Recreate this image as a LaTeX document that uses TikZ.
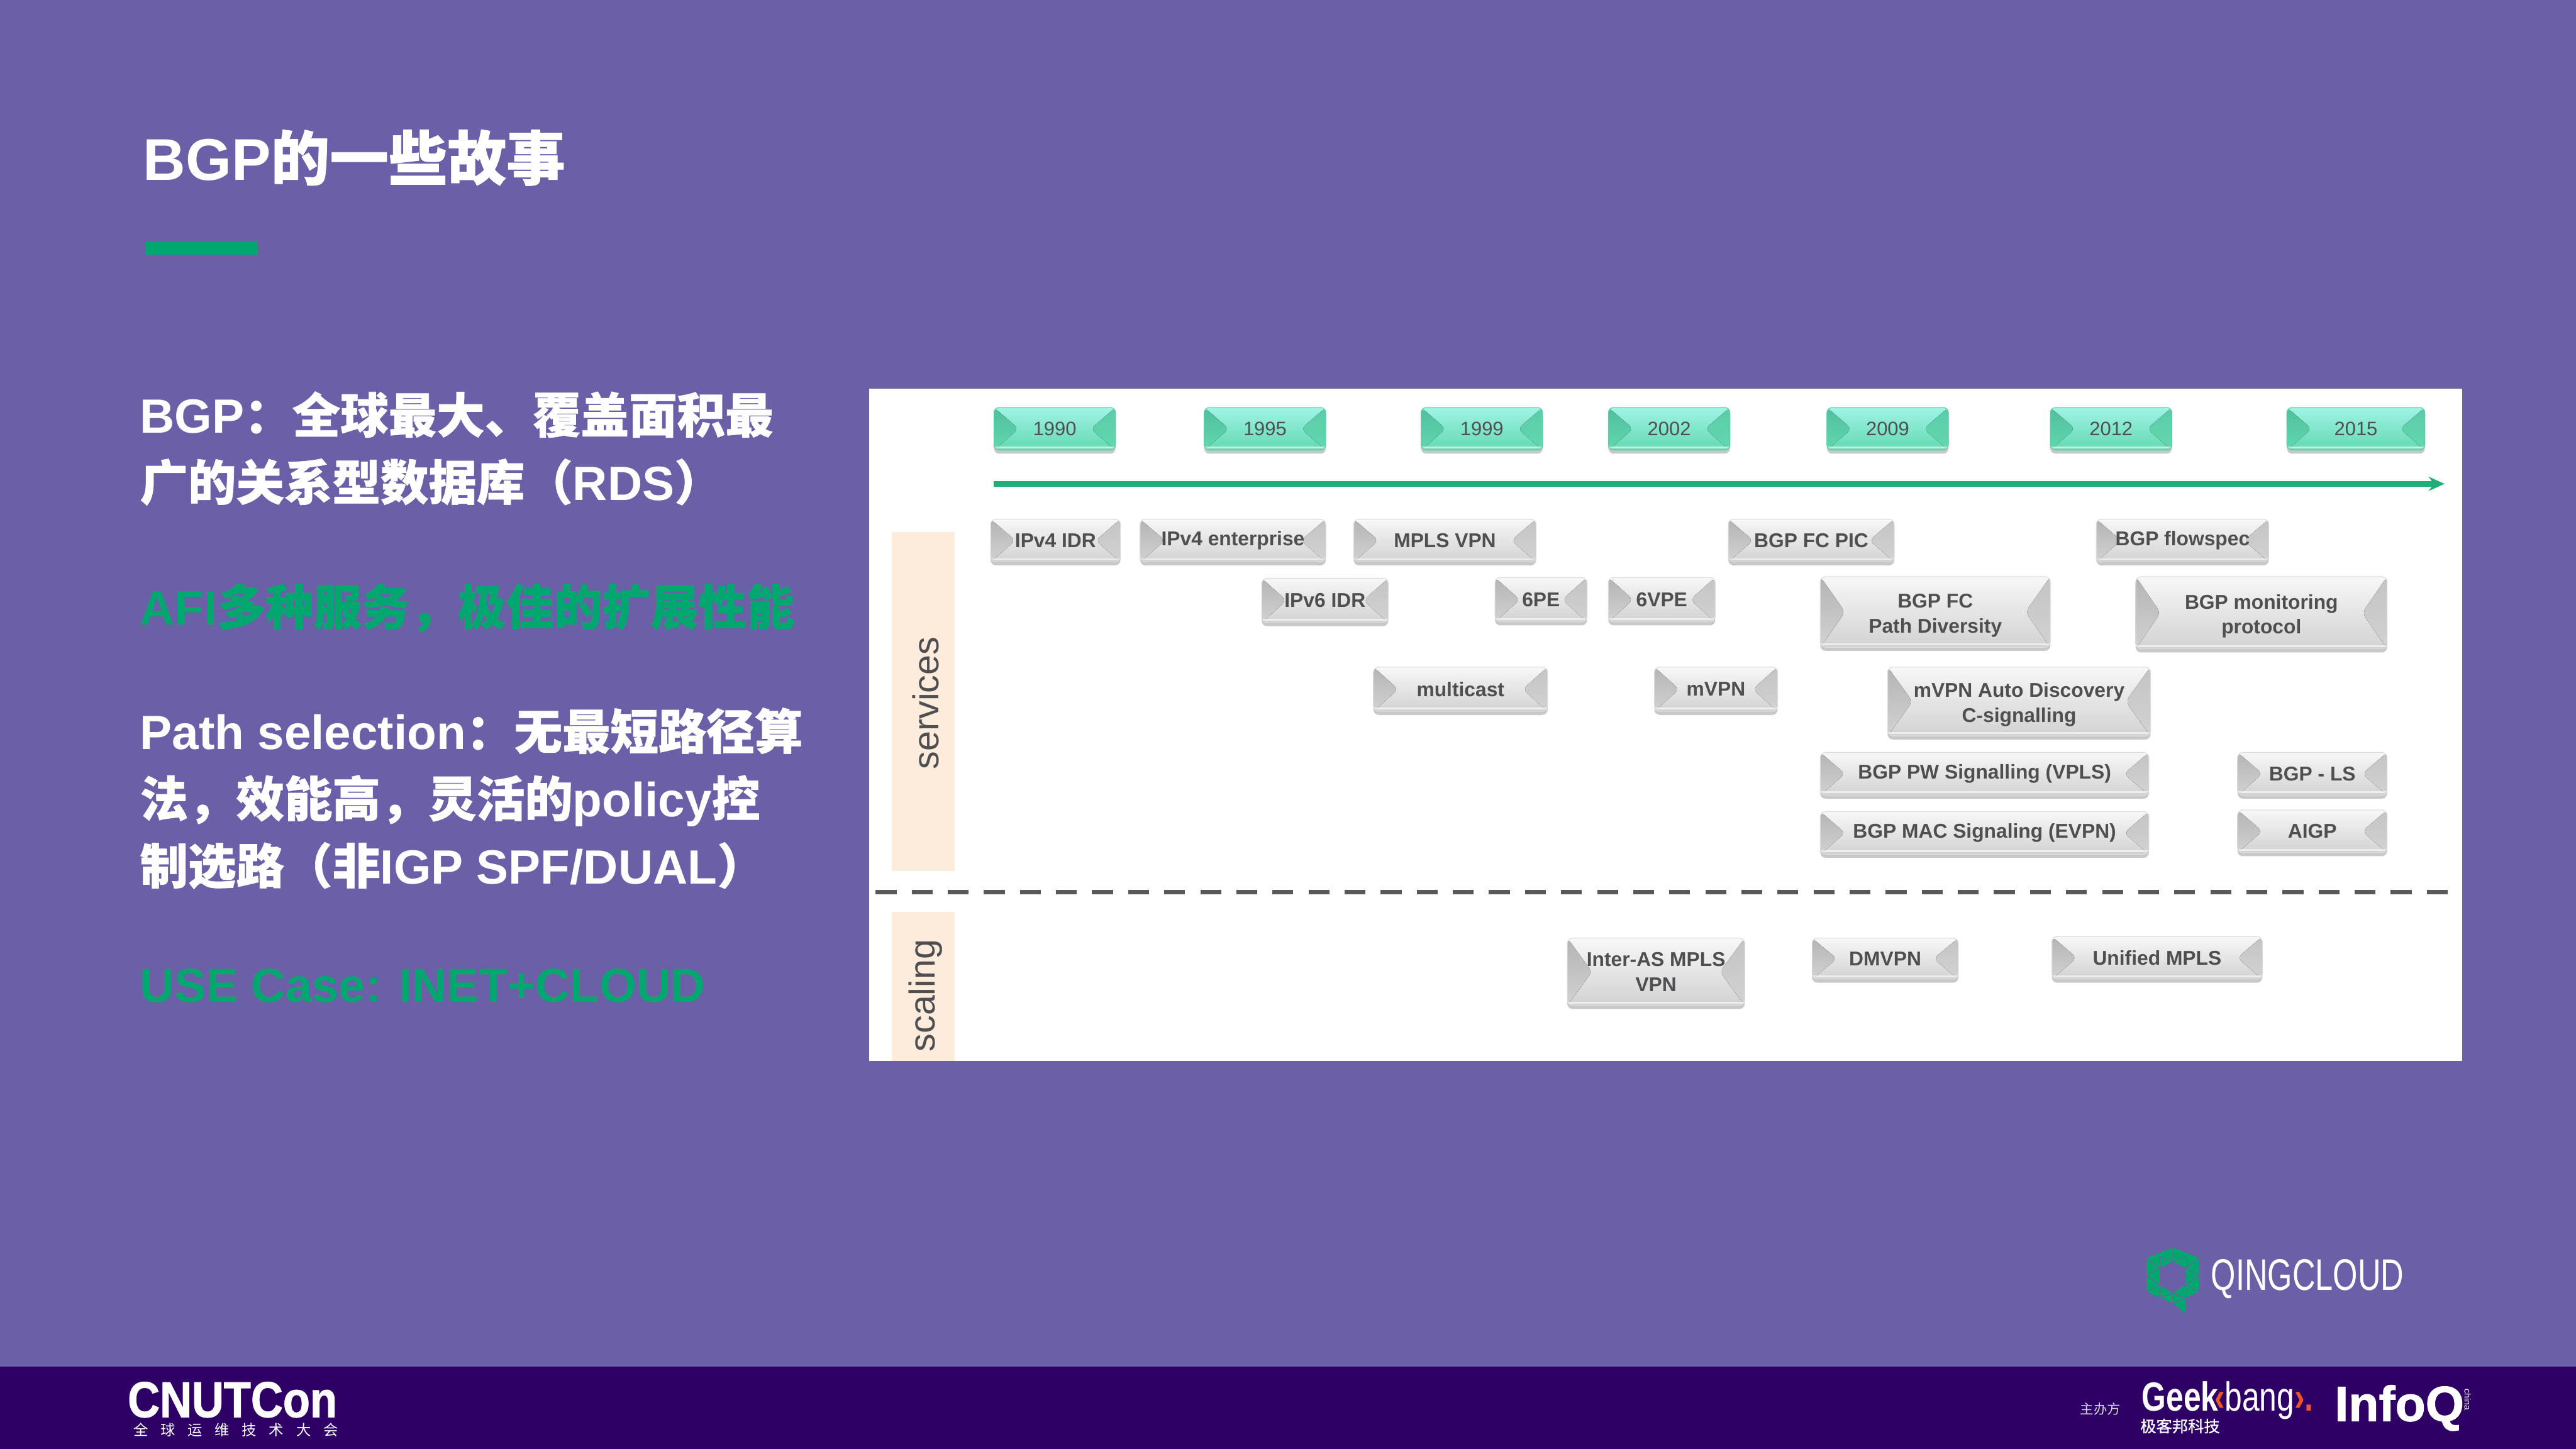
\documentclass[tikz,border=0pt]{standalone}
\usepackage{fontspec}
\usepackage{xcolor}
\usepackage{tikz}
\usetikzlibrary{arrows.meta,shadows}
\setmainfont{Liberation Sans}
\newfontfamily\zh[FakeBold=.8]{Noto Sans CJK SC}
\newfontfamily\cjk{Noto Sans CJK SC}
\newfontfamily\heavy[UprightFont=* Bold,FakeBold=1.4]{Liberation Sans}
\newcommand{\fs}[2]{\fontsize{#1}{#2}\selectfont}
\definecolor{slidebg}{HTML}{6B60A8}
\definecolor{footbg}{HTML}{2E0066}
\definecolor{accent}{HTML}{00A870}
\definecolor{axisgreen}{HTML}{1FAE78}
\definecolor{sidebar}{HTML}{FDEBDB}
\definecolor{labelgrey}{HTML}{4F4F52}
\definecolor{geekorange}{HTML}{E8562A}
\definecolor{yeartop}{HTML}{A0F4E6}
\definecolor{yearmid}{HTML}{5CCDA8}
\definecolor{yearlow}{HTML}{62D8B0}
\definecolor{yearfacet}{HTML}{50BE9C}
\definecolor{yearfacetr}{HTML}{5CCBA8}
\definecolor{greyfacet}{HTML}{B4B4B4}
\definecolor{greyfacetr}{HTML}{C4C4C4}
\definecolor{greymid}{HTML}{C0C0C0}
\definecolor{greylow}{HTML}{D2D2D2}

\begin{document}
\begin{tikzpicture}[
    x=0.032647cm, y=-0.032647cm,
    dim/.style 2 args={minimum width=#1*0.929pt, minimum height=#2*0.929pt},
    bevelbox/.style n args={3}{rounded corners=3pt, inner sep=0pt, align=center,
        drop shadow={shadow xshift=0pt, shadow yshift=-2pt, opacity=.3, fill=black!70},
        path picture={
            \fill[top color=#1, bottom color=#3] (path picture bounding box.north west)
                -- ([xshift=14pt]path picture bounding box.west)
                -- (path picture bounding box.south west) -- cycle;
            \fill[top color=#2, bottom color=#3] (path picture bounding box.north east)
                -- ([xshift=-14pt]path picture bounding box.east)
                -- (path picture bounding box.south east) -- cycle;
            \draw[white, opacity=.6, line width=1pt] ([yshift=1.6pt]path picture bounding box.south west)
                -- ([yshift=1.6pt]path picture bounding box.south east);
        }},
    greybox/.style={bevelbox={greyfacet}{greyfacetr}{greylow}, draw=black!14, line width=.4pt,
        top color=black!3, middle color=greymid, bottom color=greylow,
        text=labelgrey, font=\fs{11.3}{14.2}\bfseries},
    yearbox/.style={bevelbox={yearfacet}{yearfacetr}{yearlow}, draw=yearmid, line width=.4pt,
        top color=yeartop, middle color=yearmid, bottom color=yearlow,
        text=labelgrey, font=\fs{11}{13}},
    slidetext/.style={anchor=west, text=white, inner sep=0pt, align=left, font=\fs{27.2}{38}\bfseries},
    sidelabel/.style={rotate=90, text=labelgrey, inner sep=0pt, font=\fs{20.4}{24}}
]
    \useasboundingbox (0,0) rectangle (1568,881.86);
    \fill[slidebg] (0,0) rectangle (1568,881.86);
    \fill[footbg] (0,832) rectangle (1568,881.86);

    % left column
    \node[slidetext, font=\fs{33.3}{38}\bfseries] (title) at (87,96) {BGP{\zh 的一些故事}};
    \fill[accent] (89,147) rectangle (157,155);
    \node[slidetext] (rds) at (85,273) {BGP{\zh ：全球最大、覆盖面积最}\\{\zh 广的关系型数据库（}RDS{\zh ）}};
    \node[slidetext, text=accent] (afi) at (85,370) {AFI{\zh 多种服务，极佳的扩展性能}};
    \node[slidetext] (path) at (85,486) {Path selection{\zh ：无最短路径算}\\{\zh 法，效能高，灵活的}policy{\zh 控}\\{\zh 制选路（非}IGP SPF/DUAL{\zh ）}};
    \node[slidetext, text=accent, font=\fs{27}{38}\bfseries] (usecase) at (85,600) {USE Case: INET+CLOUD};

    % panel
    \fill[white] (529,236.5) rectangle (1498.5,645.7);
    \fill[sidebar] (543,324) rectangle (581,530);
    \fill[sidebar] (543,555) rectangle (581,645.7);
    \node[sidelabel] (services) at (563.5,428) {services};
    \node[sidelabel] (scaling) at (563.5,606) {scaling};

    \coordinate (axisstart) at (605,294.5);
    \coordinate (axisend) at (1488,294.5);
    \draw[axisgreen, line width=3pt, -{Stealth[length=9pt,width=8pt]}] (axisstart) -- (axisend);
    \coordinate (dashstart) at (533,543);
    \coordinate (dashend) at (1490,543);
    \draw[black!65, line width=2.6pt, dash pattern=on 11.8pt off 8.6pt] (dashstart) -- (dashend);

    \node[yearbox, dim={74}{26}] (y1990) at (642,261) {1990};
    \node[yearbox, dim={74}{26}] (y1995) at (770,261) {1995};
    \node[yearbox, dim={74}{26}] (y1999) at (902,261) {1999};
    \node[yearbox, dim={74}{26}] (y2002) at (1016,261) {2002};
    \node[yearbox, dim={74}{26}] (y2009) at (1149,261) {2009};
    \node[yearbox, dim={74}{26}] (y2012) at (1285,261) {2012};
    \node[yearbox, dim={84}{26}] (y2015) at (1434,261) {2015};

    \node[greybox, dim={79}{26}] (ipvfouridr) at (642.5,329) {IPv4 IDR};
    \node[greybox, dim={113}{26}] (enterprise) at (750.5,329) {IPv4 enterprise};
    \node[greybox, dim={111}{26}] (mplsvpn) at (879.5,329) {MPLS VPN};
    \node[greybox, dim={101}{26}] (fcpic) at (1102.5,329) {BGP FC PIC};
    \node[greybox, dim={105}{26}] (flowspec) at (1328.5,329) {BGP flowspec};
    \node[greybox, dim={77}{27}] (ipvsixidr) at (806.5,365.5) {IPv6 IDR};
    \node[greybox, dim={56}{27}] (sixpe) at (938,365) {6PE};
    \node[greybox, dim={65}{27}] (sixvpe) at (1011.5,365) {6VPE};
    \node[greybox, dim={140}{43}] (diversity) at (1178,372.5) {\rule{0pt}{12pt}BGP FC\\Path Diversity};
    \node[greybox, dim={153}{44}] (monitoring) at (1376.5,373) {\rule{0pt}{12pt}BGP monitoring\\protocol};
    \node[greybox, dim={106}{27}] (multicast) at (889,419.5) {multicast};
    \node[greybox, dim={75}{27}] (mvpn) at (1044.5,419.5) {mVPN};
    \node[greybox, dim={160}{42}] (autodisc) at (1229,427) {\rule{0pt}{12pt}mVPN Auto Discovery\\C-signalling};
    \node[greybox, dim={200}{26}] (vpls) at (1208,471) {BGP PW Signalling (VPLS)};
    \node[greybox, dim={91}{26}] (bgpls) at (1407.5,471) {BGP - LS};
    \node[greybox, dim={200}{26}] (evpn) at (1208,507) {BGP MAC Signaling (EVPN)};
    \node[greybox, dim={91}{26}] (aigp) at (1407.5,506) {AIGP};
    \node[greybox, dim={108}{41}] (interas) at (1008,591.5) {Inter-AS MPLS\\VPN};
    \node[greybox, dim={89}{25}] (dmvpn) at (1147.5,583.5) {DMVPN};
    \node[greybox, dim={128}{26}] (unified) at (1313,583) {Unified MPLS};

    % logos
    \fill[accent, even odd rule] (1322.6,759.4) -- (1338.5,765.7) -- (1338.5,786.2) -- (1330.5,790)
        -- (1330.5,799.6) -- (1322.6,793.3) -- (1306.6,786.2) -- (1306.6,765.7) -- cycle
        (1322.6,767.8) -- (1314.6,771.9) -- (1314.6,782.1) -- (1322.6,787.2) -- (1330.5,782.1) -- (1330.5,771.9) -- cycle;
    \draw[slidebg, line width=.4pt] (1322.6,759.4) -- (1322.6,767.8) -- (1314.6,765) -- (1314.6,771.9)
        -- (1306.6,765.7) (1322.6,767.8) -- (1330.5,765) -- (1330.5,771.9) -- (1338.5,765.7)
        (1306.6,776) -- (1314.6,771.9) (1306.6,776) -- (1314.6,782.1) -- (1306.6,786.2)
        (1338.5,776) -- (1330.5,771.9) (1338.5,776) -- (1330.5,782.1) -- (1338.5,786.2)
        (1314.6,782.1) -- (1314.6,790) -- (1322.6,787.2) -- (1322.6,793.3) -- (1330.5,790) -- (1322.6,787.2)
        (1330.5,782.1) -- (1330.5,790);
    \node[text=white, inner sep=0pt, xscale=.72, font=\fs{25}{28}] (qingcloud) at (1404.5,778.5) {QINGCLOUD};

    \node[text=white, inner sep=0pt, xscale=.88, font=\fs{28.5}{30}\heavy] (cnutcon) at (141.5,852) {CNUTCon};
    \node[text=white, inner sep=0pt, font=\fs{8.3}{9}\cjk] (cnutsub) at (143.5,870.5)
        {\makebox[115.7pt][s]{全\hfill 球\hfill 运\hfill 维\hfill 技\hfill 术\hfill 大\hfill 会}};
    \node[text=black!15, inner sep=0pt, font=\fs{7.6}{9}\cjk] (host) at (1278.5,857.5) {主办方};
    \node[text=white, inner sep=0pt, xscale=.77, font=\fs{23}{25}] (geek) at (1356,852.5)
        {{\bfseries Geek}\kern-3pt\textcolor{geekorange}{\bfseries ‹}bang\textcolor{geekorange}{\bfseries ›.}};
    \node[text=white, inner sep=0pt, font=\fs{9}{10}\zh] (geeksub) at (1327,868) {极客邦科技};
    \node[text=white, inner sep=0pt, font=\fs{28}{30}\heavy] (infoq) at (1460.5,857) {InfoQ};
    \node[text=white, inner sep=0pt, rotate=-90, font=\fs{5}{6}] (infoqcn) at (1502,852) {china};
\end{tikzpicture}
\end{document}
